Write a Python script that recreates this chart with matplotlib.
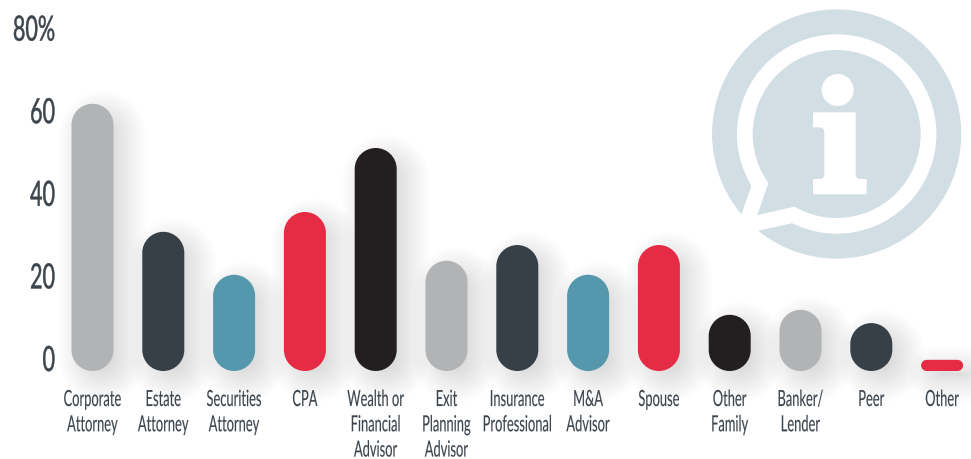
import matplotlib
matplotlib.use("Agg")
import matplotlib.pyplot as plt
from matplotlib.patches import Circle, PathPatch, Polygon
from matplotlib.path import Path
from matplotlib.patheffects import AbstractPathEffect
from matplotlib.text import Text
from matplotlib.transforms import Affine2D

categorias = ["Corporate\nAttorney", "Estate\nAttorney", "Securities\nAttorney", "CPA",
              "Wealth or\nFinancial\nAdvisor", "Exit\nPlanning\nAdvisor", "Insurance\nProfessional",
              "M&A\nAdvisor", "Spouse", "Other\nFamily", "Banker/\nLender", "Peer", "Other"]
valores = [64.7, 33.7, 23.3, 38.5, 54.0, 26.7, 30.5, 23.3, 30.5, 13.6, 14.8, 11.6, 2.7]
cores = ["#b1b3b5", "#373f47", "#5597ad", "#e62b44", "#231f20", "#b1b3b5", "#373f47",
         "#5597ad", "#e62b44", "#231f20", "#b1b3b5", "#373f47", "#e62b44"]
ticks = [0, 20, 40, 60, 80]
tick_labels = ["0", "20", "40", "60", "80%"]

COR_TEXTO = "#3c444c"
COR_ICONE = "#d1dee4"
FONTE = "Lato"

LARG, ALT = 971, 459
PX_X = 70.8    # pixels por categoria
PX_Y = 4.13    # pixels por ponto percentual
BASE = 371     # linha do zero
ORIGEM = 92.5  # centro da primeira barra
ESQ = 60
LARG_BARRA = 42
KAPPA = 0.5523

fig = plt.figure(figsize=(LARG / 100, ALT / 100), dpi=100, facecolor="white")


# Não há fonte condensada instalada: estreita o texto na horizontal, em torno da âncora
class Estreitar(AbstractPathEffect):
    def __init__(self, fator, texto, traco):
        super().__init__()
        self.fator = fator
        self.texto = texto
        self.traco = traco

    def draw_path(self, renderer, gc, tpath, affine, rgbFace=None):
        x = self.texto.get_transform().transform(self.texto.get_position())[0]
        t = affine + Affine2D().translate(-x, 0).scale(self.fator, 1).translate(x, 0)
        gc0 = renderer.new_gc()
        gc0.copy_properties(gc)
        gc0.set_foreground(rgbFace)
        gc0.set_linewidth(self.traco)
        renderer.draw_path(gc0, tpath, t, rgbFace)
        gc0.restore()


class TextoEstreito(Text):
    def __init__(self, *args, fator=0.6, traco=0.0, **kwargs):
        super().__init__(*args, **kwargs)
        self.fator = fator
        self.set_path_effects([Estreitar(fator, self, traco)])

    def get_window_extent(self, renderer=None, dpi=None):
        caixa = super().get_window_extent(renderer, dpi)
        x = self.get_transform().transform(self.get_position())[0]
        return caixa.transformed(Affine2D().translate(-x, 0).scale(self.fator, 1).translate(x, 0))


# Ícone de informação ao fundo, em coordenadas de pixel
def desenhar_icone():
    bg = fig.add_axes([0, 0, 1, 1], zorder=0)
    bg.set_xlim(0, LARG)
    bg.set_ylim(ALT, 0)
    bg.axis("off")

    def p(x, y):
        return (680 + x / 3, y / 3)

    cx, cy = p(470, 402)
    bg.add_patch(Circle((cx, cy), 124.6, color=COR_ICONE, lw=0))
    bg.add_patch(Circle((cx, cy), 99.7, color="white", lw=0))
    abertura = [(215, 555), (185, 640), (160, 680), (215, 715), (235, 692), (335, 670), (470, 402)]
    bg.add_patch(Polygon([p(*q) for q in abertura], color="white", lw=0))
    bg.add_patch(Circle((cx, cy), 84, color=COR_ICONE, lw=0))
    cauda = [(265, 550), (232, 645), (343, 620), (470, 402)]
    bg.add_patch(Polygon([p(*q) for q in cauda], color=COR_ICONE, lw=0))

    bg.add_patch(Circle(p(473, 270), 16, color="white", lw=0))
    verts = [(399, 337), (527, 337), (527, 522), (527, 537), (542, 537), (560, 537), (560, 583), (399, 583),
             (399, 537), (418, 537), (433, 537), (433, 522), (433, 398), (433, 382), (418, 382), (399, 382),
             (399, 337)]
    codes = [Path.MOVETO, Path.LINETO, Path.LINETO, Path.CURVE3, Path.CURVE3, Path.LINETO, Path.LINETO, Path.LINETO,
             Path.LINETO, Path.LINETO, Path.CURVE3, Path.CURVE3, Path.LINETO, Path.CURVE3, Path.CURVE3, Path.LINETO,
             Path.CLOSEPOLY]
    bg.add_patch(PathPatch(Path([p(*q) for q in verts], codes), color="white", lw=0))


# Barra com cantos circulares; folga, dx e dy em pixels servem para a sombra
def barra(ax, x, valor, cor, folga=0, dx=0, dy=0, alpha=1, z=3):
    alt_px = valor * PX_Y + 2 * folga
    larg_px = LARG_BARRA + 2 * folga
    raio_px = min(larg_px, alt_px) / 2
    x0 = x + (dx - larg_px / 2) / PX_X
    x1 = x0 + larg_px / PX_X
    y0 = (dy - folga) / PX_Y
    y1 = y0 + alt_px / PX_Y
    rx = raio_px / PX_X
    ry = raio_px / PX_Y
    kx = rx * (1 - KAPPA)
    ky = ry * (1 - KAPPA)
    verts = [(x0 + rx, y0), (x1 - rx, y0),
             (x1 - kx, y0), (x1, y0 + ky), (x1, y0 + ry),
             (x1, y1 - ry),
             (x1, y1 - ky), (x1 - kx, y1), (x1 - rx, y1),
             (x0 + rx, y1),
             (x0 + kx, y1), (x0, y1 - ky), (x0, y1 - ry),
             (x0, y0 + ry),
             (x0, y0 + ky), (x0 + kx, y0), (x0 + rx, y0),
             (x0 + rx, y0)]
    c4 = [Path.CURVE4] * 3
    codes = [Path.MOVETO, Path.LINETO] + c4 + [Path.LINETO] + c4 + [Path.LINETO] + c4 + [Path.LINETO] + c4 + [Path.CLOSEPOLY]
    ax.add_patch(PathPatch(Path(verts, codes), facecolor=cor, edgecolor="none", alpha=alpha, zorder=z, clip_on=False))


desenhar_icone()

ax = fig.add_axes([ESQ / LARG, 1 - BASE / ALT, (LARG - ESQ) / LARG, BASE / ALT], zorder=1)
ax.patch.set_visible(False)
ax.set_xlim((ESQ - ORIGEM) / PX_X, (LARG - ORIGEM) / PX_X)
ax.set_ylim(0, BASE / PX_Y)

for i, (v, c) in enumerate(zip(valores, cores)):
    # sombra difusa em camadas
    for folga in range(22, -12, -2):
        barra(ax, i, v, "#5a6670", folga=folga, dx=10, dy=-9, alpha=0.012, z=2)
    barra(ax, i, v, c)

for s in ax.spines.values():
    s.set_visible(False)
ax.set_xticks([])
ax.set_yticks([])

# Rótulos do eixo y: a linha de base do texto fica sobre o valor
x_rotulo = (55 - ORIGEM) / PX_X
for t, rotulo in zip(ticks, tick_labels):
    ax.add_artist(TextoEstreito(x_rotulo, t, rotulo, fator=0.62, traco=0.35, family=FONTE, fontsize=25,
                                color=COR_TEXTO, ha="right", va="baseline", clip_on=False))

# Rótulos das categorias
y_rotulo = -19 / PX_Y
for i, nome in enumerate(categorias):
    ax.add_artist(TextoEstreito(i, y_rotulo, nome, fator=0.58, traco=0.1, family=FONTE, fontsize=16,
                                color=COR_TEXTO, ha="center", va="top", linespacing=1.33, clip_on=False))

fig.savefig("out.png", dpi=100)
